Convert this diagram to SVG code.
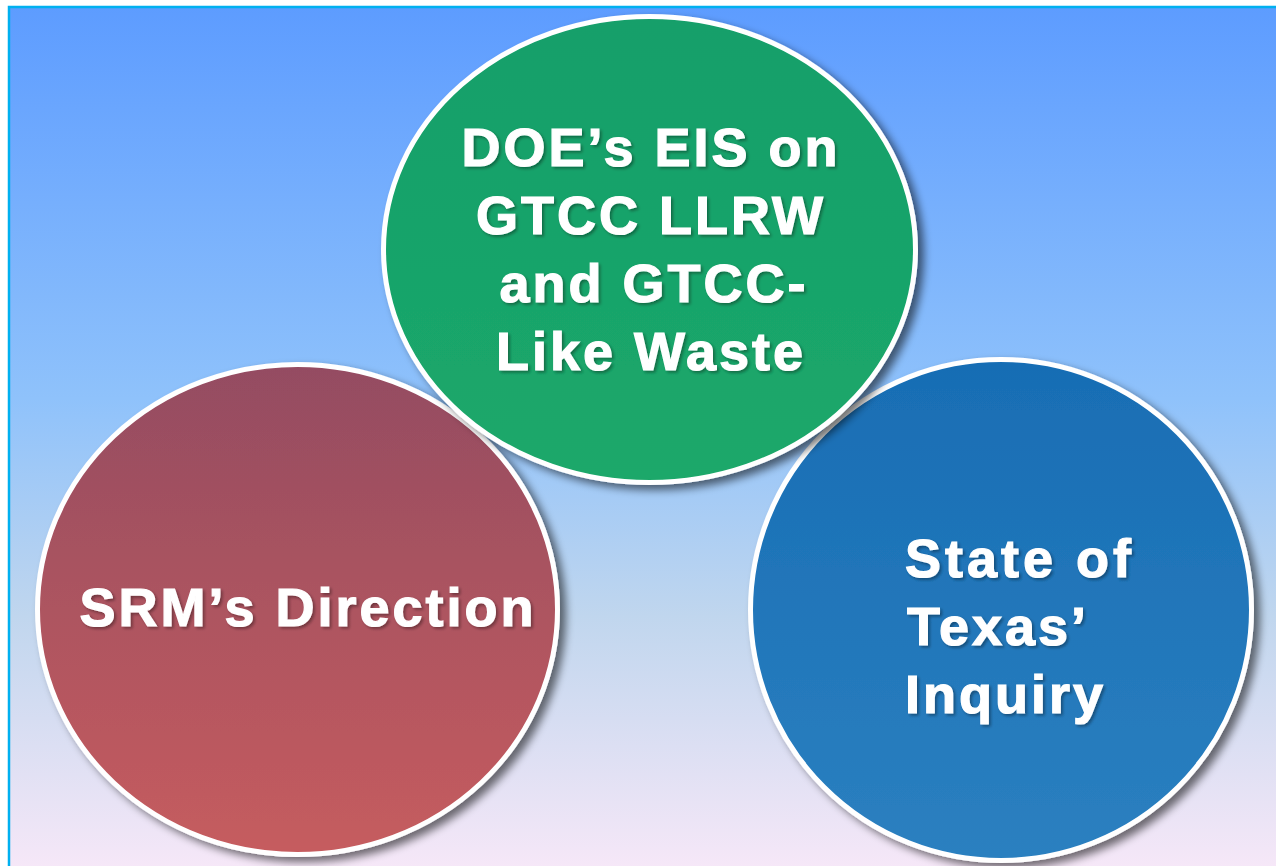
<svg xmlns="http://www.w3.org/2000/svg" width="1276" height="866" viewBox="0 0 1276 866">
  <defs>
    <linearGradient id="bg" x1="0" y1="0" x2="0" y2="1">
      <stop offset="0" stop-color="#5d9cff"/>
      <stop offset="0.45" stop-color="#8fc2fb"/>
      <stop offset="0.7" stop-color="#c0d6ee"/>
      <stop offset="1" stop-color="#f8e8f8"/>
    </linearGradient>
    <linearGradient id="gGreen" x1="0" y1="0" x2="0" y2="1">
      <stop offset="0" stop-color="#149f6a"/>
      <stop offset="1" stop-color="#1ca86a"/>
    </linearGradient>
    <linearGradient id="gRed" x1="0" y1="0" x2="0" y2="1">
      <stop offset="0" stop-color="#944c62"/>
      <stop offset="1" stop-color="#c65c5e"/>
    </linearGradient>
    <linearGradient id="gBlue" x1="0" y1="0" x2="0" y2="1">
      <stop offset="0" stop-color="#186db4"/>
      <stop offset="1" stop-color="#2b80c0"/>
    </linearGradient>
    <filter id="shadow" x="-10%" y="-10%" width="125%" height="125%">
      <feGaussianBlur in="SourceAlpha" stdDeviation="4"/>
      <feOffset dx="6" dy="5" result="b"/>
      <feComponentTransfer><feFuncA type="linear" slope="0.55"/></feComponentTransfer>
      <feMerge><feMergeNode/><feMergeNode in="SourceGraphic"/></feMerge>
    </filter>
    <filter id="tshadow" x="-5%" y="-20%" width="110%" height="140%">
      <feGaussianBlur in="SourceAlpha" stdDeviation="1.5"/>
      <feOffset dx="2" dy="2"/>
      <feComponentTransfer><feFuncA type="linear" slope="0.35"/></feComponentTransfer>
      <feMerge><feMergeNode/><feMergeNode in="SourceGraphic"/></feMerge>
    </filter>
  </defs>
  <style>
    .disc { stroke: #ffffff; stroke-width: 5; }
    .label { font-family: "Liberation Sans", Arial, sans-serif; font-weight: bold; font-size: 54px; letter-spacing: 3px; fill: #ffffff; stroke: #ffffff; stroke-width: 1.2; }
  </style>

  <rect x="0" y="0" width="1276" height="866" fill="#ffffff"/>
  <rect x="9" y="7" width="1280" height="870" fill="url(#bg)" stroke="#00b0f0" stroke-width="2.5"/>

  <g id="node-srm" filter="url(#shadow)">
    <ellipse class="disc" cx="297.5" cy="609.5" rx="260" ry="245" fill="url(#gRed)"/>
    <text class="label" filter="url(#tshadow)" x="308" y="626" text-anchor="middle">SRM’s Direction</text>
  </g>

  <g id="node-texas" filter="url(#shadow)">
    <ellipse class="disc" cx="1001" cy="610" rx="250.5" ry="250.5" fill="url(#gBlue)"/>
    <g class="label" filter="url(#tshadow)">
      <text x="905" y="577" letter-spacing="4">State of</text>
      <text x="907" y="645">Texas’</text>
      <text x="905" y="713">Inquiry</text>
    </g>
  </g>

  <g id="node-doe" filter="url(#shadow)">
    <ellipse class="disc" cx="649.5" cy="249.5" rx="266" ry="233" fill="url(#gGreen)"/>
    <g class="label" filter="url(#tshadow)" text-anchor="middle">
      <text x="651" y="166">DOE’s EIS on</text>
      <text x="651" y="234">GTCC LLRW</text>
      <text x="654" y="302">and GTCC-</text>
      <text x="651" y="370">Like Waste</text>
    </g>
  </g>

  <g id="connectors"/>
</svg>
